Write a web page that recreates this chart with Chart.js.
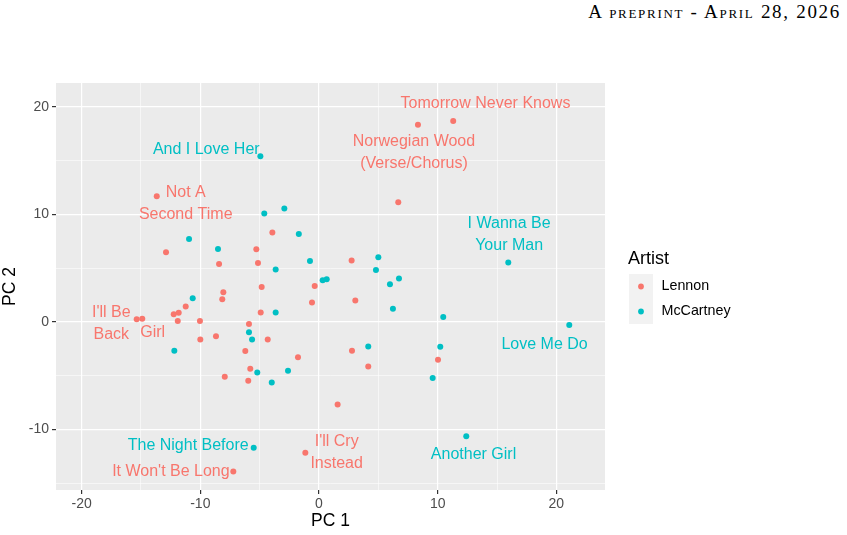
<!DOCTYPE html>
<html><head><meta charset="utf-8">
<script src="https://cdn.jsdelivr.net/npm/chart.js@4.4.1/dist/chart.umd.min.js"></script>
<style>
html,body{margin:0;padding:0;background:#fff;}
#wrap{position:relative;width:847px;height:535px;}
#hdr{position:absolute;right:6px;top:1px;font-family:"Liberation Serif","DejaVu Serif",serif;font-size:19px;letter-spacing:1.7px;font-variant:small-caps;color:#000;white-space:nowrap;}
canvas{position:absolute;left:0;top:0;}
</style></head>
<body><div id="wrap"><div id="hdr">A preprint - April 28, 2026</div><canvas id="c" width="847" height="535"></canvas></div>
<script>
const seriesNames = ["Lennon", "McCartney"];
const seriesColors = ["#F8766D", "#00BFC4"];
const lennonX = [-13.67,11.31,8.34,6.68,-3.93,-5.28,-12.89,-8.42,-5.14,2.75,-0.36,-4.83,-0.59,3.06,-8.06,-8.15,-11.23,-11.82,-12.24,-11.9,-15.36,-14.89,-10.03,-4.91,-5.9,-4.32,-10.0,-8.68,-6.21,-1.77,-5.79,-7.94,-5.96,2.78,4.15,10.03,1.57,-1.15,-7.22];
const lennonY = [11.69,18.69,18.35,11.13,8.32,6.77,6.49,5.40,5.49,5.71,3.35,3.26,1.81,2.0,2.77,2.12,1.44,0.85,0.72,0.1,0.26,0.29,0.1,0.88,-0.18,-1.63,-1.63,-1.32,-2.71,-3.27,-4.36,-5.1,-5.47,-2.68,-4.14,-3.52,-7.67,-12.16,-13.9];
const mccX = [-4.94,-4.61,-2.92,-1.7,-10.95,-8.51,-3.65,-0.76,0.31,0.65,15.95,5.0,4.8,5.98,6.74,6.23,10.47,21.09,4.15,10.22,9.58,12.41,-10.64,-3.65,-5.9,-5.64,-12.19,-5.2,-2.61,-3.98,-5.5];
const mccY = [15.41,10.08,10.55,8.19,7.72,6.79,4.88,5.68,3.88,3.98,5.53,6.02,4.84,3.51,4.04,1.22,0.47,-0.27,-2.28,-2.31,-5.22,-10.64,2.21,0.88,-0.95,-1.63,-2.68,-4.7,-4.54,-5.63,-11.7];
const xTicks = [-20,-15,-10,-5,0,5,10,15,20];
const yTicks = [-15,-10,-5,0,5,10,15,20];
const xTickLabels = ["-20","-10","0","10","20"];
const yTickLabels = ["-10","0","10","20"];
// song labels: text lines, artist index, anchor (data units)
const labelText = [["Tomorrow Never Knows"],["Norwegian Wood","(Verse/Chorus)"],["I Wanna Be","Your Man"],["And I Love Her"],["Not A","Second Time"],["I'll Be","Back"],["Girl"],["The Night Before"],["It Won't Be Long"],["I'll Cry","Instead"],["Another Girl"],["Love Me Do"]];
const labelArtist = [0,0,1,1,0,0,0,1,0,0,1,1];
const labelX = [14.03,8.0,16.02,-9.5,-11.23,-17.5,-14.01,-11.02,-12.48,1.49,13.02,19.01];
const labelY = [20.4,15.87,8.21,16.15,11.1,-0.07,-0.92,-11.45,-13.84,-12.04,-12.22,-2.0];

const FONT = '"Liberation Sans", Arial, sans-serif';
const PANEL = {left:56, right:605, top:83, bottom:490};

function toPts(xs, ys){ return xs.map((x,i)=>({x:x, y:ys[i]})); }

const bgPlugin = {
  id:'bg',
  beforeDraw(chart){
    const {ctx, chartArea:a} = chart;
    ctx.save(); ctx.fillStyle='#EBEBEB';
    ctx.fillRect(a.left, a.top, a.right-a.left, a.bottom-a.top);
    ctx.restore();
  }
};
const labelPlugin = {
  id:'songlabels',
  afterDatasetsDraw(chart){
    const ctx = chart.ctx, xs = chart.scales.x, ys = chart.scales.y;
    ctx.save();
    ctx.font = '16px ' + FONT;
    ctx.textAlign='center'; ctx.textBaseline='middle';
    const lh = 22;
    labelText.forEach((lines,i)=>{
      ctx.fillStyle = seriesColors[labelArtist[i]];
      const cx = xs.getPixelForValue(labelX[i]);
      const cy = ys.getPixelForValue(labelY[i]) + 1;
      const n = lines.length;
      lines.forEach((t,j)=>{
        ctx.fillText(t, cx, cy + (j-(n-1)/2)*lh);
      });
    });
    ctx.restore();
  },
  afterDraw(chart){
    const ctx = chart.ctx;
    ctx.save();
    ctx.fillStyle='#000'; ctx.font='18px '+FONT; ctx.textAlign='left'; ctx.textBaseline='middle';
    ctx.fillText('Artist', 628, 259);
    ctx.fillStyle='#F2F2F2';
    ctx.fillRect(629, 274, 24, 50);
    seriesNames.forEach((n,i)=>{
      const cy = 286.5 + i*25;
      ctx.fillStyle = seriesColors[i];
      ctx.beginPath(); ctx.arc(641, cy, 2.9, 0, Math.PI*2); ctx.fill();
      ctx.fillStyle='#000'; ctx.font='14.3px '+FONT;
      ctx.fillText(n, 661.5, cy);
    });
    ctx.restore();
  }
};

function gridCfg(){
  return {
    color: c => '#FFFFFF',
    lineWidth: c => (c.tick && c.tick.value % 10 === 0) ? 1.2 : 0.55,
    tickColor: c => (c.tick && c.tick.value % 10 === 0) ? '#333333' : 'rgba(0,0,0,0)',
    tickLength: 4,
    drawTicks: true,
    drawOnChartArea: true
  };
}

new Chart(document.getElementById('c'), {
  type:'scatter',
  data:{ datasets:[
    {label:seriesNames[0], data:toPts(lennonX,lennonY), backgroundColor:seriesColors[0], borderWidth:0, pointRadius:3, pointHoverRadius:3},
    {label:seriesNames[1], data:toPts(mccX,mccY), backgroundColor:seriesColors[1], borderWidth:0, pointRadius:3, pointHoverRadius:3}
  ]},
  options:{
    responsive:false, animation:false, devicePixelRatio:1,
    layout:{padding:{left:0, top:PANEL.top, right:847-PANEL.right, bottom:0}},
    plugins:{legend:{display:false}, tooltip:{enabled:false}},
    scales:{
      x:{
        type:'linear', min:-22.16, max:24.1,
        afterBuildTicks: s => { s.ticks = xTicks.map(v=>({value:v})); },
        afterFit: s => { s.height = 535-PANEL.bottom; },
        grid: gridCfg(),
        border:{display:false},
        ticks:{ color:'#4D4D4D', font:{family:FONT, size:14}, padding:2, maxRotation:0, autoSkip:false,
          callback: v => xTickLabels.includes(String(v)) ? String(v) : '' },
        title:{display:true, text:'PC 1', color:'#000', font:{family:FONT, size:17.5}, padding:{top:0,bottom:3}}
      },
      y:{
        type:'linear', min:-15.63, max:22.23,
        afterBuildTicks: s => { s.ticks = yTicks.map(v=>({value:v})); },
        afterFit: s => { s.width = PANEL.left; },
        grid: gridCfg(),
        border:{display:false},
        ticks:{ color:'#4D4D4D', font:{family:FONT, size:14}, padding:3, autoSkip:false,
          callback: v => yTickLabels.includes(String(v)) ? String(v) : '' },
        title:{display:true, text:'PC 2', color:'#000', font:{family:FONT, size:17.5}, padding:{top:0,bottom:4}}
      }
    }
  },
  plugins:[bgPlugin, labelPlugin]
});
</script></body></html>
